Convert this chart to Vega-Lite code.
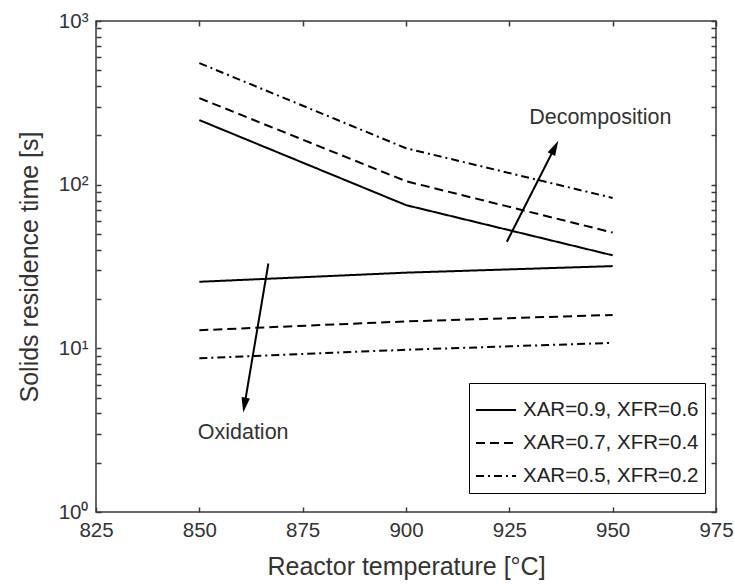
{
  "$schema": "https://vega.github.io/schema/vega-lite/v6.json",
  "width": 620,
  "height": 491,
  "autosize": {"type": "none"},
  "padding": {"left": 96, "top": 21, "right": 18, "bottom": 72},
  "background": "white",
  "config": {
    "font": "Liberation Sans",
    "view": {"stroke": "#3a3a3a", "strokeWidth": 1.5},
    "axis": {
      "grid": false,
      "domain": false,
      "tickColor": "#3a3a3a",
      "tickWidth": 1.5,
      "tickSize": -5,
      "labelFont": "Liberation Sans",
      "labelFontSize": 20.5,
      "labelColor": "#333333",
      "labelPadding": 13,
      "labelOverlap": false,
      "titleFont": "Liberation Sans",
      "titleFontSize": 25,
      "titleFontWeight": "normal",
      "titleColor": "#333333"
    }
  },
  "datasets": {
    "curves": [
      {"branch": "decomposition", "series": "XAR=0.9, XFR=0.6", "T": 850, "t": 248},
      {"branch": "decomposition", "series": "XAR=0.9, XFR=0.6", "T": 900, "t": 75},
      {"branch": "decomposition", "series": "XAR=0.9, XFR=0.6", "T": 950, "t": 37},
      {"branch": "decomposition", "series": "XAR=0.7, XFR=0.4", "T": 850, "t": 338},
      {"branch": "decomposition", "series": "XAR=0.7, XFR=0.4", "T": 900, "t": 105},
      {"branch": "decomposition", "series": "XAR=0.7, XFR=0.4", "T": 950, "t": 51},
      {"branch": "decomposition", "series": "XAR=0.5, XFR=0.2", "T": 850, "t": 553},
      {"branch": "decomposition", "series": "XAR=0.5, XFR=0.2", "T": 900, "t": 167},
      {"branch": "decomposition", "series": "XAR=0.5, XFR=0.2", "T": 950, "t": 83},
      {"branch": "oxidation", "series": "XAR=0.9, XFR=0.6", "T": 850, "t": 25.5},
      {"branch": "oxidation", "series": "XAR=0.9, XFR=0.6", "T": 900, "t": 29},
      {"branch": "oxidation", "series": "XAR=0.9, XFR=0.6", "T": 950, "t": 31.8},
      {"branch": "oxidation", "series": "XAR=0.7, XFR=0.4", "T": 850, "t": 12.9},
      {"branch": "oxidation", "series": "XAR=0.7, XFR=0.4", "T": 900, "t": 14.6},
      {"branch": "oxidation", "series": "XAR=0.7, XFR=0.4", "T": 950, "t": 16},
      {"branch": "oxidation", "series": "XAR=0.5, XFR=0.2", "T": 850, "t": 8.7},
      {"branch": "oxidation", "series": "XAR=0.5, XFR=0.2", "T": 900, "t": 9.8},
      {"branch": "oxidation", "series": "XAR=0.5, XFR=0.2", "T": 950, "t": 10.8}
    ],
    "arrows": [
      {"arrow": "Decomposition", "part": "tail", "T": 924.4, "t": 44.8},
      {"arrow": "Decomposition", "part": "head", "T": 935.8, "t": 165},
      {"arrow": "Oxidation", "part": "tail", "T": 866.7, "t": 33},
      {"arrow": "Oxidation", "part": "head", "T": 861.0, "t": 4.62}
    ],
    "notes": [
      {"text": "Decomposition", "T": 947, "t": 255},
      {"text": "Oxidation", "T": 860.6, "t": 3.05}
    ]
  },
  "resolve": {"axis": {"x": "independent", "y": "independent"}},
  "layer": [
    {
      "data": {"name": "curves"},
      "mark": {"type": "line", "strokeWidth": 2, "color": "black"},
      "encoding": {
        "x": {
          "field": "T", "type": "quantitative",
          "scale": {"domain": [825, 975], "nice": false, "zero": false},
          "axis": {"values": [825, 850, 875, 900, 925, 950, 975], "title": "Reactor temperature [°C]", "titlePadding": 14, "labelFlush": false}
        },
        "y": {
          "field": "t", "type": "quantitative",
          "scale": {"type": "log", "domain": [1, 1000], "nice": false},
          "axis": {
            "values": [1, 2, 3, 4, 5, 6, 7, 8, 9, 10, 20, 30, 40, 50, 60, 70, 80, 90, 100, 200, 300, 400, 500, 600, 700, 800, 900, 1000],
            "labelExpr": "datum.value == 1 ? '10⁰' : datum.value == 10 ? '10¹' : datum.value == 100 ? '10²' : datum.value == 1000 ? '10³' : ''",
            "title": "Solids residence time [s]",
            "titlePadding": 16
          }
        },
        "strokeDash": {
          "field": "series", "type": "nominal",
          "scale": {"domain": ["XAR=0.9, XFR=0.6", "XAR=0.7, XFR=0.4", "XAR=0.5, XFR=0.2"], "range": [[1, 0], [9, 5], [8, 4, 2, 4]]},
          "legend": {
            "title": null,
            "orient": "none",
            "legendX": 373,
            "legendY": 362,
            "direction": "vertical",
            "symbolType": "stroke",
            "symbolSize": 1600,
            "symbolStrokeWidth": 2,
            "symbolStrokeColor": "black",
            "labelFont": "Liberation Sans",
            "labelFontSize": 20.5,
            "labelColor": "#222222",
            "labelLimit": 300,
            "labelOffset": 6,
            "padding": 6,
            "rowPadding": 1,
            "strokeColor": "black",
            "fillColor": "white"
          }
        },
        "detail": {"field": "branch", "type": "nominal"}
      }
    },
    {
      "data": {"name": "curves"},
      "mark": {"type": "point", "opacity": 0},
      "encoding": {
        "x": {"field": "T", "type": "quantitative", "axis": {"orient": "top", "values": [825, 850, 875, 900, 925, 950, 975], "labels": false, "title": null}},
        "y": {"field": "t", "type": "quantitative", "axis": {"orient": "right", "values": [1, 2, 3, 4, 5, 6, 7, 8, 9, 10, 20, 30, 40, 50, 60, 70, 80, 90, 100, 200, 300, 400, 500, 600, 700, 800, 900, 1000], "labels": false, "title": null}}
      }
    },
    {
      "data": {"name": "arrows"},
      "mark": {"type": "line", "strokeWidth": 2, "color": "black"},
      "encoding": {
        "x": {"field": "T", "type": "quantitative", "axis": null},
        "y": {"field": "t", "type": "quantitative", "axis": null},
        "detail": {"field": "arrow", "type": "nominal"}
      }
    },
    {
      "data": {"name": "arrows"},
      "transform": [{"filter": "datum.arrow == 'Decomposition' && datum.part == 'head'"}],
      "mark": {"type": "point", "shape": "M0,-1L0.45,0.6L-0.45,0.6Z", "filled": true, "color": "black", "opacity": 1, "size": 350, "angle": 27.3},
      "encoding": {
        "x": {"field": "T", "type": "quantitative", "axis": null},
        "y": {"field": "t", "type": "quantitative", "axis": null}
      }
    },
    {
      "data": {"name": "arrows"},
      "transform": [{"filter": "datum.arrow == 'Oxidation' && datum.part == 'head'"}],
      "mark": {"type": "point", "shape": "M0,-1L0.45,0.6L-0.45,0.6Z", "filled": true, "color": "black", "opacity": 1, "size": 350, "angle": 189.6},
      "encoding": {
        "x": {"field": "T", "type": "quantitative", "axis": null},
        "y": {"field": "t", "type": "quantitative", "axis": null}
      }
    },
    {
      "data": {"name": "notes"},
      "mark": {"type": "text", "font": "Liberation Sans", "fontSize": 21.5, "color": "#333333", "align": "center", "baseline": "middle"},
      "encoding": {
        "x": {"field": "T", "type": "quantitative", "axis": null},
        "y": {"field": "t", "type": "quantitative", "axis": null},
        "text": {"field": "text"}
      }
    }
  ]
}
